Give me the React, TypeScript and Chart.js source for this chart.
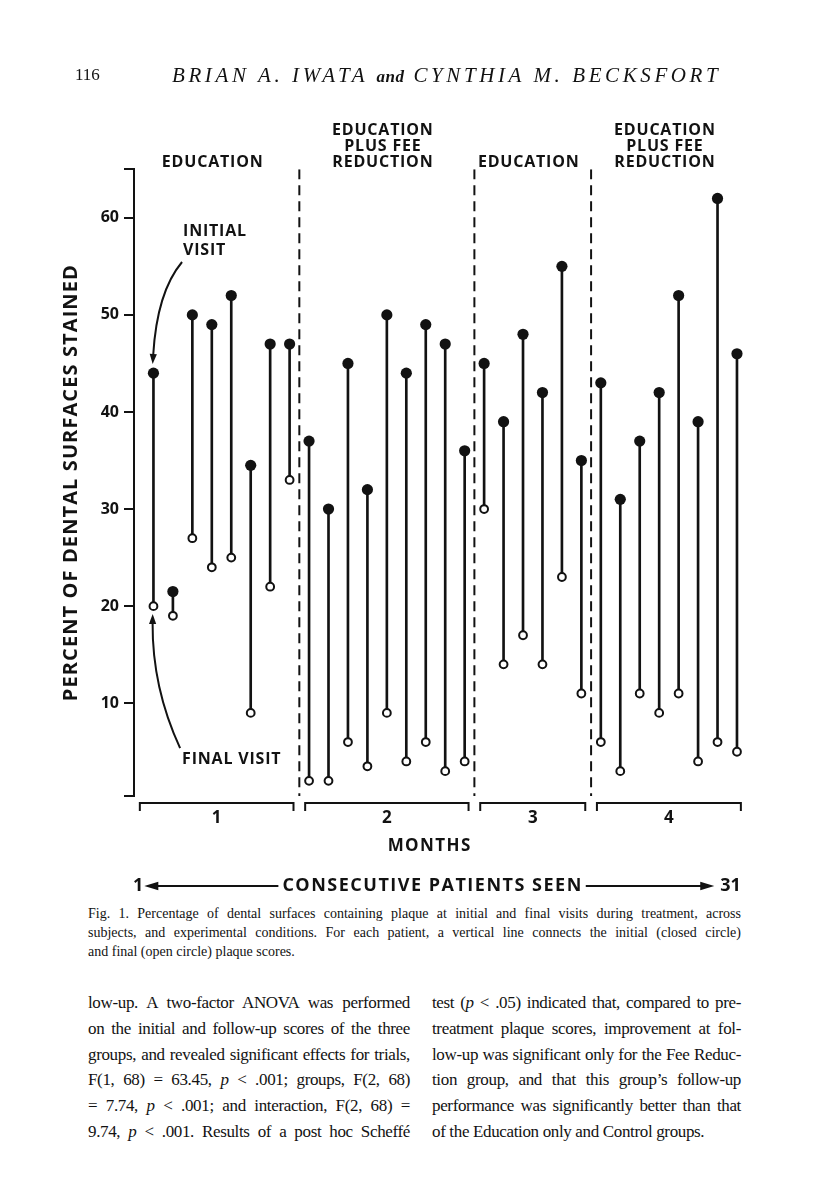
import React, { useEffect, useRef } from "react";
import { Chart, registerables } from "chart.js";

Chart.register(...registerables);

// ---------------- data ----------------
const patientNumbers = [
  1, 2, 3, 4, 5, 6, 7, 8, 9, 10, 11, 12, 13, 14, 15, 16, 17, 18, 19, 20, 21,
  22, 23, 24, 25, 26, 27, 28, 29, 30, 31,
];
const initialScores = [
  44, 21.5, 50, 49, 52, 34.5, 47, 47, 37, 30, 45, 32, 50, 44, 49, 47, 36, 45,
  39, 48, 42, 55, 35, 43, 31, 37, 42, 52, 39, 62, 46,
];
const finalScores = [
  20, 19, 27, 24, 25, 9, 22, 33, 2, 2, 6, 3.5, 9, 4, 6, 3, 4, 30, 14, 17, 14,
  23, 11, 6, 3, 11, 9, 11, 4, 6, 5,
];
const yTickValues = [10, 20, 30, 40, 50, 60];
const conditionNames = [
  ["EDUCATION"],
  ["EDUCATION", "PLUS FEE", "REDUCTION"],
  ["EDUCATION"],
  ["EDUCATION", "PLUS FEE", "REDUCTION"],
];
const phaseFirstPatient = [1, 9, 18, 24];
const phaseLastPatient = [8, 17, 23, 31];
const monthLabels = ["1", "2", "3", "4"];
const yAxisTitle = "PERCENT OF DENTAL SURFACES STAINED";
const xAxisTitle = "MONTHS";
const sequenceLabel = "CONSECUTIVE PATIENTS SEEN";
const sequenceStart = "1";
const sequenceEnd = "31";
const initialNote = ["INITIAL", "VISIT"];
const finalNote = "FINAL VISIT";

const Y_MIN = 0.44;
const Y_MAX = 65;
const X_MIN = 0;
const X_MAX = 31.5;

const INK = "#121212";
const SANS = '"Open Sans", "DejaVu Sans", sans-serif';
const SERIF = '"Liberation Serif", "DejaVu Serif", serif';

const phaseBoundaries = phaseLastPatient
  .slice(0, -1)
  .map((last, i) => (last + phaseFirstPatient[i + 1]) / 2);

// ---------------- helpers ----------------
function arrowHead(ctx: CanvasRenderingContext2D, tipX: number, tipY: number, ang: number, len: number, half: number) {
  const bx = tipX - Math.cos(ang) * len;
  const by = tipY - Math.sin(ang) * len;
  const nx = -Math.sin(ang);
  const ny = Math.cos(ang);
  ctx.beginPath();
  ctx.moveTo(tipX, tipY);
  ctx.lineTo(bx + nx * half, by + ny * half);
  ctx.lineTo(bx - nx * half, by - ny * half);
  ctx.closePath();
  ctx.fill();
}

function curvedArrow(
  ctx: CanvasRenderingContext2D,
  p0: [number, number],
  c: [number, number],
  tip: [number, number]
) {
  const ang = Math.atan2(tip[1] - c[1], tip[0] - c[0]);
  const len = 10;
  const ex = tip[0] - Math.cos(ang) * (len - 1);
  const ey = tip[1] - Math.sin(ang) * (len - 1);
  ctx.beginPath();
  ctx.moveTo(p0[0], p0[1]);
  ctx.quadraticCurveTo(c[0], c[1], ex, ey);
  ctx.stroke();
  arrowHead(ctx, tip[0], tip[1], ang, len, 3.6);
}

const annotationPlugin = {
  id: "pageAnnotations",
  afterDraw(chart: any) {
    const { ctx, chartArea: ca, scales } = chart;
    const x = scales.x;
    const y = scales.y;
    const px = (v: number) => x.getPixelForValue(v);
    const py = (v: number) => y.getPixelForValue(v);
    ctx.save();
    ctx.fillStyle = INK;
    ctx.strokeStyle = INK;
    ctx.lineCap = "butt";

    // y axis title
    ctx.save();
    ctx.translate(70, (ca.top + ca.bottom) / 2);
    ctx.rotate(-Math.PI / 2);
    ctx.font = `700 20px ${SANS}`;
    (ctx as any).letterSpacing = "1.1px";
    ctx.textAlign = "center";
    ctx.textBaseline = "middle";
    ctx.fillText(yAxisTitle, 0, 1);
    ctx.restore();

    // condition labels above the chart
    ctx.font = `700 16px ${SANS}`;
    (ctx as any).letterSpacing = "0.8px";
    ctx.textAlign = "center";
    ctx.textBaseline = "middle";
    const edges = [X_MIN, ...phaseBoundaries, X_MAX];
    conditionNames.forEach((lines, i) => {
      const cx = (px(edges[i]) + px(edges[i + 1])) / 2 - 4;
      lines.forEach((t, j) => {
        const cy = ca.top - 6.5 - (lines.length - 1 - j) * 16;
        ctx.fillText(t, cx, cy);
      });
    });

    // annotations
    ctx.lineWidth = 2;
    const iStart: [number, number] = [px(2.47), py(55.45)];
    curvedArrow(ctx, iStart, [px(1.18), py(52.36)], [px(0.96), py(44.94)]);
    ctx.textAlign = "left";
    ctx.fillText(initialNote[0], iStart[0] + 1, iStart[1] - 30.5);
    ctx.fillText(initialNote[1], iStart[0] + 1, iStart[1] - 12);

    const fStart: [number, number] = [px(2.37), py(5.38)];
    curvedArrow(ctx, fStart, [px(0.93), py(11.6)], [px(0.96), py(19.19)]);
    ctx.fillText(finalNote, fStart[0] + 2, fStart[1] + 11);

    // month brackets
    const by = ca.bottom + 7;
    ctx.lineWidth = 2;
    ctx.font = `700 17px ${SANS}`;
    (ctx as any).letterSpacing = "0px";
    ctx.textAlign = "center";
    monthLabels.forEach((m, i) => {
      const l = px(edges[i] + 0.3);
      const r = px(edges[i + 1] - 0.3);
      ctx.beginPath();
      ctx.moveTo(l, by + 8);
      ctx.lineTo(l, by);
      ctx.lineTo(r, by);
      ctx.lineTo(r, by + 8);
      ctx.stroke();
      ctx.fillText(m, (l + r) / 2, ca.bottom + 22);
    });

    // x title
    ctx.font = `700 17px ${SANS}`;
    (ctx as any).letterSpacing = "1.4px";
    ctx.fillText(xAxisTitle, px(15.2), ca.bottom + 50);

    // consecutive patients row
    const ry = ca.bottom + 90;
    ctx.font = `700 18px ${SANS}`;
    (ctx as any).letterSpacing = "1.5px";
    const cx = px(15.35);
    const w = ctx.measureText(sequenceLabel).width;
    ctx.textAlign = "center";
    ctx.fillText(sequenceLabel, cx, ry);
    (ctx as any).letterSpacing = "0px";
    ctx.textAlign = "left";
    ctx.fillText(sequenceStart, ca.left - 1, ry);
    const startW = ctx.measureText(sequenceStart).width;
    ctx.textAlign = "right";
    const endX = px(31.2);
    ctx.fillText(sequenceEnd, endX, ry);
    const endW = ctx.measureText(sequenceEnd).width;

    ctx.lineWidth = 2;
    const lTip = ca.left - 1 + startW + 1;
    const lEnd = cx - w / 2 - 4;
    ctx.beginPath();
    ctx.moveTo(lTip + 12, ry);
    ctx.lineTo(lEnd, ry);
    ctx.stroke();
    arrowHead(ctx, lTip, ry, Math.PI, 14, 4.2);

    const rTip = endX - endW - 6;
    const rStart = cx + w / 2 + 3;
    ctx.beginPath();
    ctx.moveTo(rStart, ry);
    ctx.lineTo(rTip - 12, ry);
    ctx.stroke();
    arrowHead(ctx, rTip, ry, 0, 14, 4.2);

    ctx.restore();
  },
};

// ---------------- chart ----------------
function PlaqueChart() {
  const ref = useRef<HTMLCanvasElement | null>(null);
  useEffect(() => {
    if (!ref.current) return;
    const chart = new Chart(ref.current, {
      type: "scatter",
      data: {
        datasets: [
          {
            type: "scatter",
            label: "Initial visit",
            data: patientNumbers.map((p, i) => ({ x: p, y: initialScores[i] })),
            pointRadius: 5.6,
            pointBackgroundColor: INK,
            pointBorderColor: INK,
            pointBorderWidth: 0,
            order: 1,
          },
          {
            type: "scatter",
            label: "Final visit",
            data: patientNumbers.map((p, i) => ({ x: p, y: finalScores[i] })),
            pointRadius: 3.9,
            pointBackgroundColor: "#ffffff",
            pointBorderColor: INK,
            pointBorderWidth: 2,
            order: 2,
          },
          {
            type: "bar",
            label: "Change",
            data: patientNumbers.map((p, i) => ({
              x: p,
              y: [finalScores[i], initialScores[i]],
            })),
            backgroundColor: INK,
            borderWidth: 0,
            barThickness: 2,
            order: 3,
          } as any,
          ...phaseBoundaries.map((b) => ({
            type: "line",
            label: "Phase change",
            data: [
              { x: b, y: Y_MAX },
              { x: b, y: Y_MIN },
            ],
            borderColor: INK,
            borderWidth: 2,
            borderDash: [10, 6],
            pointRadius: 0,
            showLine: true,
            order: 4,
          })),
        ] as any,
      },
      options: {
        animation: false,
        responsive: false,
        maintainAspectRatio: false,
        layout: {
          padding: { left: 0, top: 169.3, right: 69.3, bottom: 104 },
        },
        plugins: {
          legend: { display: false },
          tooltip: { enabled: false },
        },
        scales: {
          x: {
            type: "linear",
            min: X_MIN,
            max: X_MAX,
            offset: false,
            display: false,
          },
          y: {
            type: "linear",
            min: Y_MIN,
            max: Y_MAX,
            afterBuildTicks: (s: any) => {
              s.ticks = [Y_MIN, ...yTickValues, Y_MAX].map((v) => ({ value: v }));
            },
            afterFit: (s: any) => {
              s.width = 134;
            },
            ticks: {
              autoSkip: false,
              padding: 5,
              color: INK,
              font: { family: SANS, size: 16, weight: "bold" },
              callback: (v: any) => (yTickValues.includes(v) ? String(v) : ""),
            },
            grid: {
              drawOnChartArea: false,
              drawTicks: true,
              tickLength: 10,
              color: INK,
              lineWidth: 2,
            },
            border: { display: true, color: INK, width: 2 },
          },
        },
      } as any,
      plugins: [annotationPlugin],
    });
    return () => chart.destroy();
  }, []);
  return (
    <canvas
      ref={ref}
      width={816}
      height={900}
      style={{ position: "absolute", left: 0, top: 0, width: 816, height: 900 }}
    />
  );
}

// ---------------- page text ----------------
const captionLines = [
  "Fig. 1. Percentage of dental surfaces containing plaque at initial and final visits during treatment, across",
  "subjects, and experimental conditions. For each patient, a vertical line connects the initial (closed circle)",
  "and final (open circle) plaque scores.",
];

const leftColumn = [
  <>low-up. A two-factor ANOVA was performed</>,
  <>on the initial and follow-up scores of the three</>,
  <>groups, and revealed significant effects for trials,</>,
  <>F(1, 68) = 63.45, <i>p</i> &lt; .001; groups, F(2, 68)</>,
  <>= 7.74, <i>p</i> &lt; .001; and interaction, F(2, 68) =</>,
  <>9.74, <i>p</i> &lt; .001. Results of a post hoc Scheffé</>,
];
const rightColumn = [
  <>test (<i>p</i> &lt; .05) indicated that, compared to pre-</>,
  <>treatment plaque scores, improvement at fol-</>,
  <>low-up was significant only for the Fee Reduc-</>,
  <>tion group, and that this group’s follow-up</>,
  <>performance was significantly better than that</>,
  <>of the Education only and Control groups.</>,
];

function Line({ children, justify }: { children: any; justify: boolean }) {
  return (
    <div
      style={{
        textAlign: justify ? "justify" : "left",
        textAlignLast: justify ? "justify" : "left",
        whiteSpace: "nowrap",
      } as any}
    >
      {children}
    </div>
  );
}

export default function App() {
  return (
    <div
      style={{
        position: "absolute",
        left: 0,
        top: 0,
        width: 816,
        height: 1195,
        background: "#ffffff",
        overflow: "hidden",
        color: INK,
      }}
    >
      <PlaqueChart />
      <div
        style={{
          position: "absolute",
          left: 75,
          top: 66,
          fontFamily: SERIF,
          fontSize: 17,
          lineHeight: "18px",
        }}
      >
        116
      </div>
      <div
        style={{
          position: "absolute",
          left: 172,
          top: 64,
          fontFamily: SERIF,
          fontStyle: "italic",
          fontSize: 21,
          letterSpacing: "3.6px",
          lineHeight: "22px",
          whiteSpace: "nowrap",
        }}
      >
        BRIAN A. IWATA <span style={{ letterSpacing: "0.5px", fontSize: 17, fontWeight: 700 }}>and</span> CYNTHIA M. BECKSFORT
      </div>
      <div
        style={{
          position: "absolute",
          left: 88,
          top: 903.5,
          width: 653,
          fontFamily: SERIF,
          fontSize: 14,
          lineHeight: "19px",
        }}
      >
        {captionLines.map((t, i) => (
          <Line key={i} justify={i < captionLines.length - 1}>
            {t}
          </Line>
        ))}
      </div>
      <div
        style={{
          position: "absolute",
          left: 88,
          top: 990,
          width: 322,
          fontFamily: SERIF,
          fontSize: 17,
          letterSpacing: "-0.35px",
          lineHeight: "25.8px",
        }}
      >
        {leftColumn.map((t, i) => (
          <Line key={i} justify={true}>
            {t}
          </Line>
        ))}
      </div>
      <div
        style={{
          position: "absolute",
          left: 432,
          top: 990,
          width: 309,
          fontFamily: SERIF,
          fontSize: 17,
          letterSpacing: "-0.35px",
          lineHeight: "25.8px",
        }}
      >
        {rightColumn.map((t, i) => (
          <Line key={i} justify={i < rightColumn.length - 1}>
            {t}
          </Line>
        ))}
      </div>
    </div>
  );
}
